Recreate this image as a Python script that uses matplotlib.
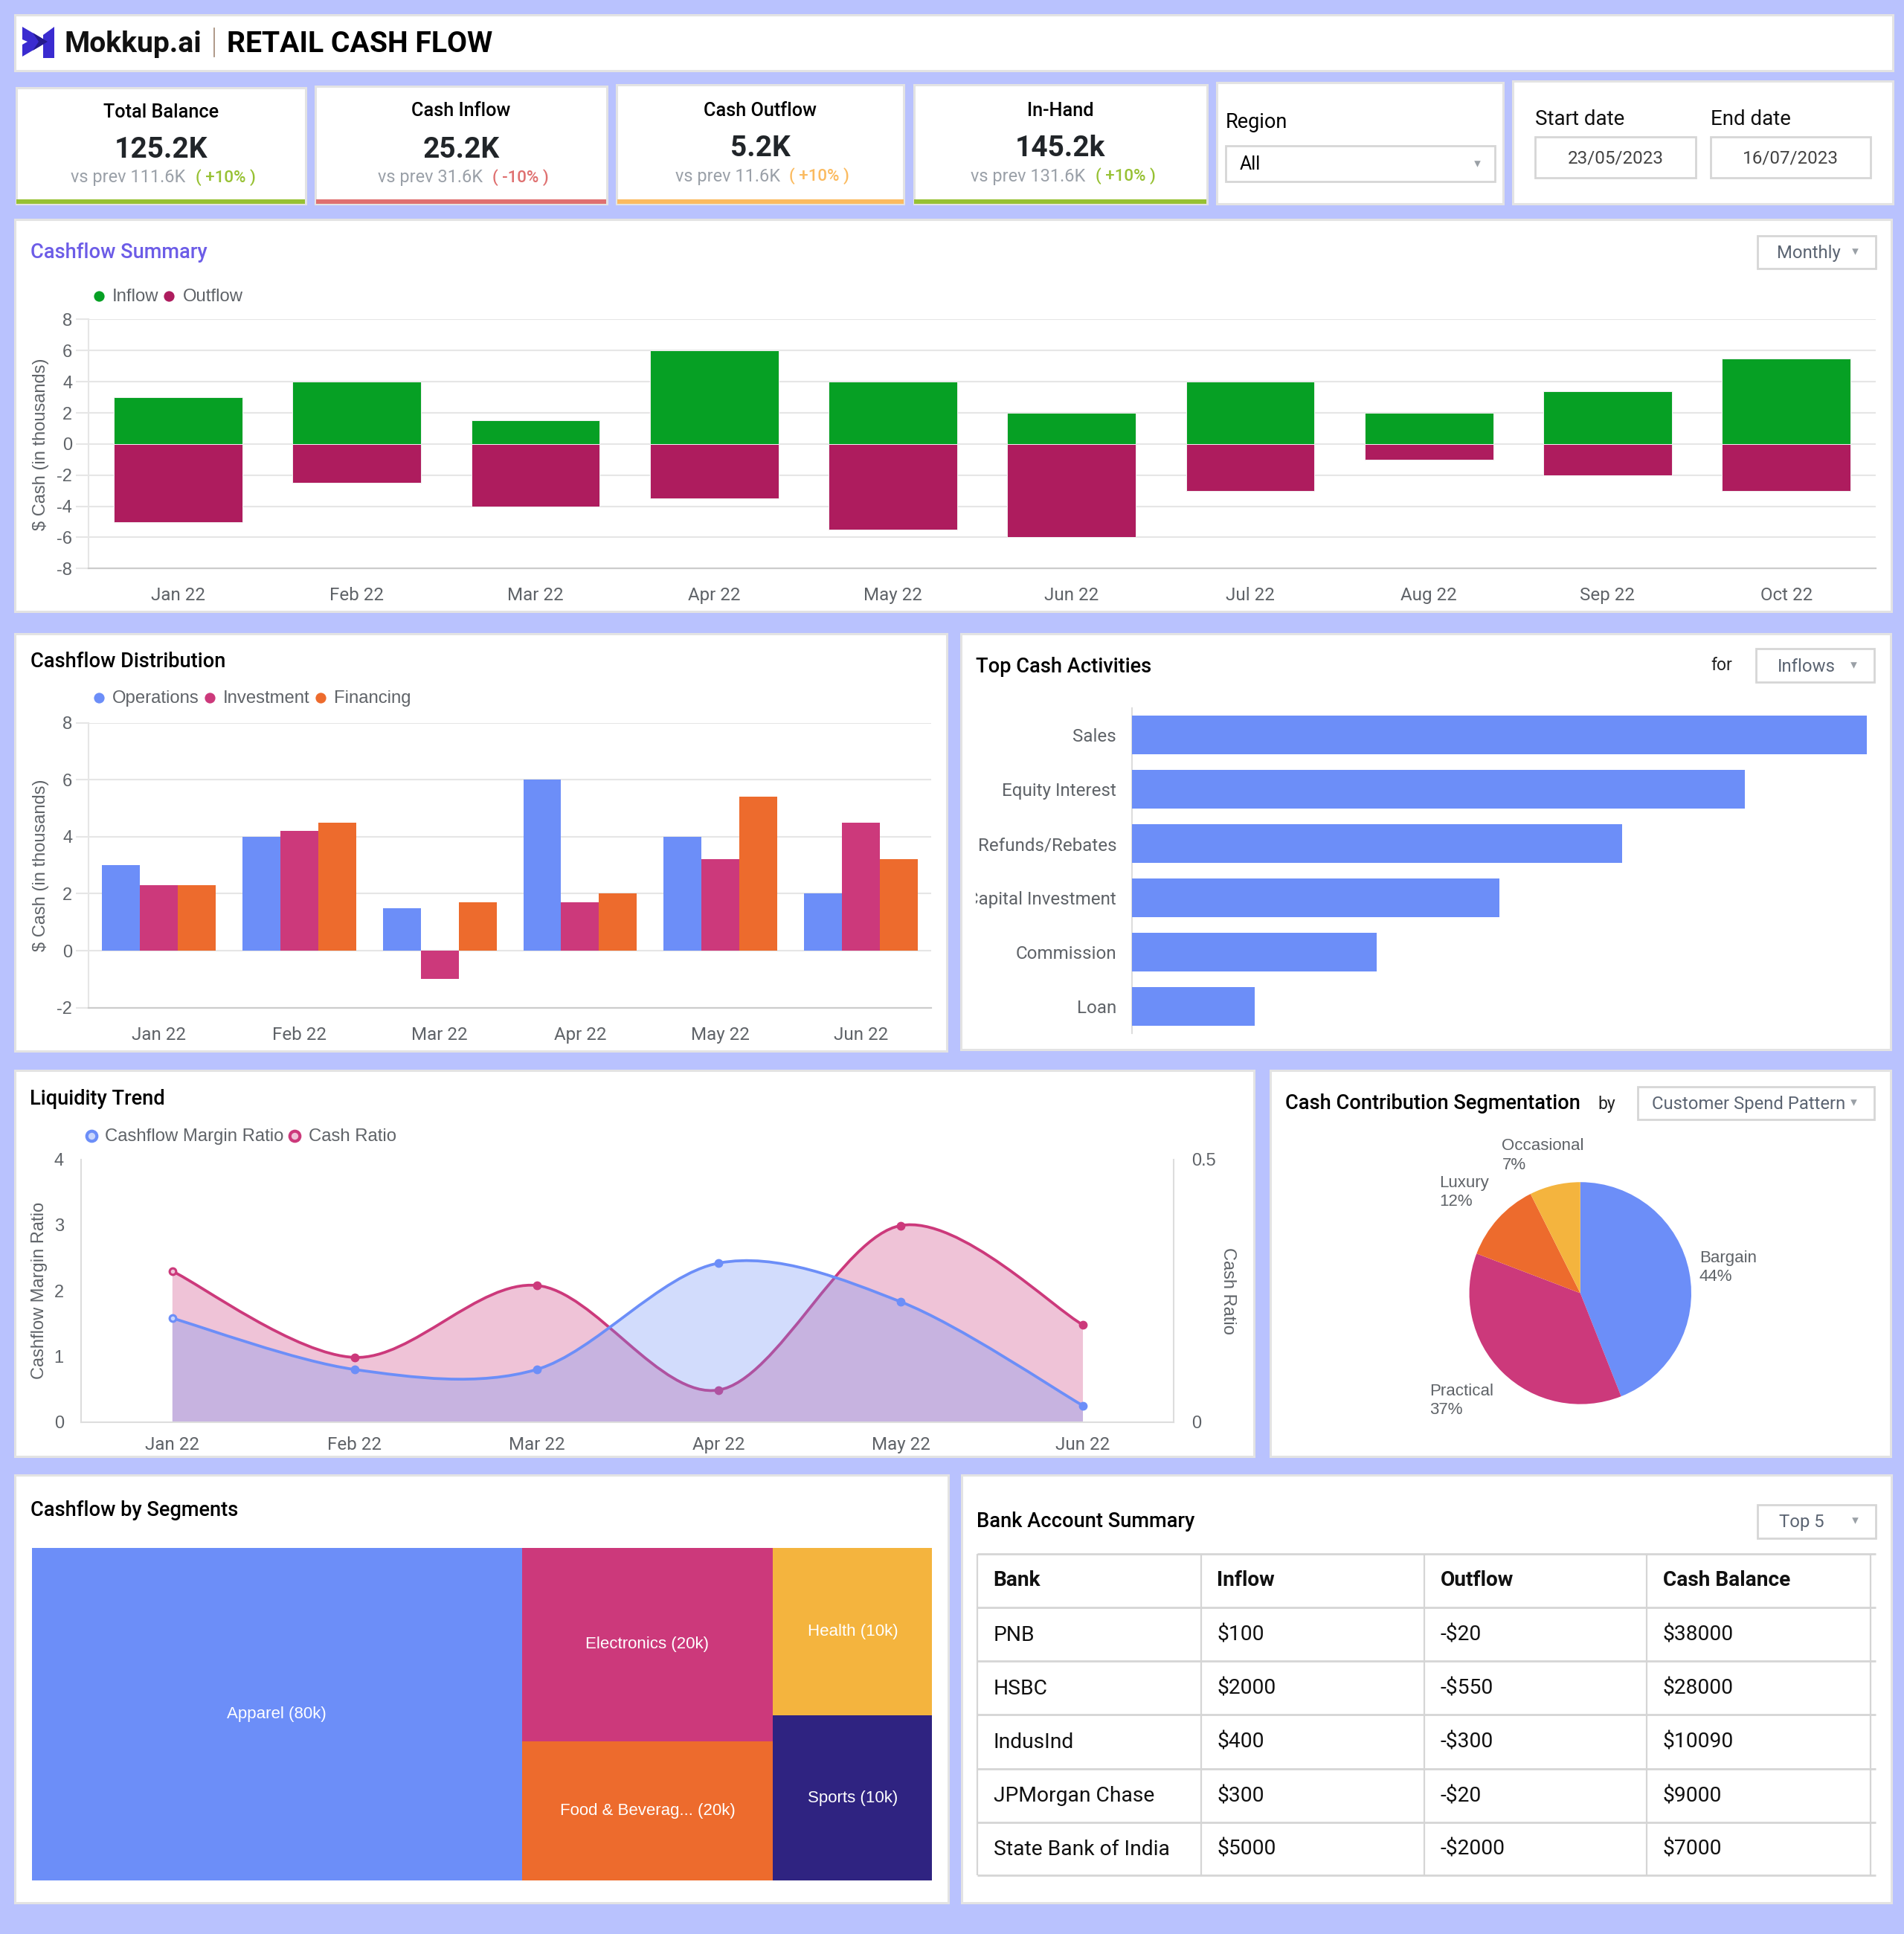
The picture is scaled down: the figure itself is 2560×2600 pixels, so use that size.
#!/usr/bin/env python3
import matplotlib
matplotlib.use('Agg')
import matplotlib.pyplot as plt
from matplotlib.patches import Rectangle, Polygon, PathPatch
from matplotlib.path import Path
from matplotlib.transforms import Bbox

# Data
months = ['Jan 22', 'Feb 22', 'Mar 22', 'Apr 22', 'May 22', 'Jun 22', 'Jul 22', 'Aug 22', 'Sep 22', 'Oct 22']
inflow = [3, 4, 1.5, 6, 4, 2, 4, 2, 3.4, 5.5]
outflow = [-5, -2.5, -4, -3.5, -5.5, -6, -3, -1, -2, -3]

dist_months = months[:6]
operations = [3, 4, 1.5, 6, 4, 2]
investment = [2.3, 4.2, -1, 1.7, 3.2, 4.5]
financing = [2.3, 4.5, 1.7, 2, 5.4, 3.2]

activities = ['Sales', 'Equity Interest', 'Refunds/Rebates', 'Capital Investment', 'Commission', 'Loan']
activity_values = [6, 5, 4, 3, 2, 1]

margin_ratio = [1.58, 0.8, 0.8, 2.42, 1.83, 0.25]
cash_ratio = [0.287, 0.123, 0.26, 0.061, 0.374, 0.185]

pie_labels = ['Bargain', 'Practical', 'Luxury', 'Occasional']
pie_values = [44, 36.8, 11.8, 7.4]

segment_labels = ['Apparel (80k)', 'Electronics (20k)', 'Food & Beverag... (20k)', 'Health (10k)', 'Sports (10k)']
segment_sizes = [54.4, 16.2, 11.7, 8.9, 8.8]

bank_header = ['Bank', 'Inflow', 'Outflow', 'Cash Balance']
banks = ['PNB', 'HSBC', 'IndusInd', 'JPMorgan Chase', 'State Bank of India']
bank_inflow = ['$100', '$2000', '$400', '$300', '$5000']
bank_outflow = ['-$20', '-$550', '-$300', '-$20', '-$2000']
bank_balance = ['$38000', '$28000', '$10090', '$9000', '$7000']

kpi_titles = ['Total Balance', 'Cash Inflow', 'Cash Outflow', 'In-Hand']
kpi_values = ['125.2K', '25.2K', '5.2K', '145.2k']
kpi_prev = ['vs prev 111.6K', 'vs prev 31.6K', 'vs prev 11.6K', 'vs prev 131.6K']
kpi_change = ['( +10% )', '( -10% )', '( +10% )', '( +10% )']

BG = '#B9C2FE'
BLUE = '#6C8EF8'
PINK = '#CC397B'
ORANGE = '#ED6B2D'
YELLOW = '#F4B43E'
NAVY = '#2F2381'
GREEN = '#06A024'
MAROON = '#AE1C5E'
GRID = '#E6E6E6'
GREY_TEXT = '#5F6368'
EDGE = '#E3E3E3'
SANS = 'Liberation Sans'

plt.rcParams['font.family'] = ['Roboto', 'DejaVu Sans']
plt.rcParams['axes.unicode_minus'] = False

W, H = 2560, 2600
S = 2560 / 1544  # layout numbers below are in units of a 1544 wide view

fig = plt.figure(figsize=(W / 100, H / 100), dpi=100, facecolor=BG)
bg = fig.add_axes([0, 0, 1, 1])
bg.set_xlim(0, W / S)
bg.set_ylim(H / S, 0)
bg.axis('off')


def panel(x0, y0, x1, y1):
    bg.add_patch(Rectangle((x0, y0), x1 - x0, y1 - y0, fc='white', ec=EDGE, lw=2.2, zorder=1))


def text(x, y, s, size=17, color='#000000', weight='normal', ha='left', **kw):
    return bg.text(x, y + 1, s, fontsize=size, color=color, fontweight=weight, ha=ha, va='center', zorder=5, **kw)


def dropdown(x0, y0, x1, y1, label, tx, arrow_x, size=17.2):
    bg.add_patch(Rectangle((x0, y0), x1 - x0, y1 - y0, fc='white', ec='#D6D6D6', lw=2, zorder=2))
    text(tx, (y0 + y1) / 2, label, size=size, color='#5B6472', ha='center')
    bg.scatter([arrow_x], [(y0 + y1) / 2 - 0.5], marker='v', s=38, color='#9AA0A6', zorder=5, linewidths=0)


def chart_ax(x0, y0, x1, y1):
    a = fig.add_axes([x0 * S / W, 1 - y1 * S / H, (x1 - x0) * S / W, (y1 - y0) * S / H])
    a.patch.set_alpha(0)
    for sp in a.spines.values():
        sp.set_visible(False)
    a.tick_params(length=0, labelsize=17.4, labelcolor=GREY_TEXT)
    return a


def style_bars_ax(a, x0, x1):
    a.grid(axis='y', color=GRID, lw=1.5, zorder=0)
    a.spines['bottom'].set_visible(True)
    a.spines['bottom'].set_color('#CCCCCC')
    a.spines['bottom'].set_linewidth(1.6)
    a.spines['left'].set_visible(True)
    a.spines['left'].set_color(GRID)
    a.spines['left'].set_linewidth(1.5)
    a.tick_params(axis='y', length=12, width=1.5, color=GRID, pad=4, labelsize=17)
    a.tick_params(axis='x', pad=18)
    for lab in a.get_yticklabels():
        lab.set_family(SANS)
    a.set_ylabel('$ Cash (in thousands)', fontsize=17, color=GREY_TEXT, family=SANS, va='center')
    a.yaxis.set_label_coords((33 - x0) / (x1 - x0), 0.5)


def legend_dot(x, y, color, label, ring=None):
    if ring:
        bg.scatter([x], [y], s=95, facecolor=ring, edgecolor=color, linewidths=3, zorder=5)
    else:
        bg.scatter([x], [y], s=105, color=color, linewidths=0, zorder=5)
    text(x + 11, y - 0.5, label, size=17.2, color=GREY_TEXT, family=SANS)


def smooth(xs, ys, k=0.16):
    # cubic segments through the points, same look as the curved lines in the dashboard
    verts = [(xs[0], ys[0])]
    codes = [Path.MOVETO]
    n = len(xs)
    for i in range(n - 1):
        dx0 = (xs[i + 1] - xs[max(i - 1, 0)]) * k
        dy0 = (ys[i + 1] - ys[max(i - 1, 0)]) * k
        dx1 = (xs[min(i + 2, n - 1)] - xs[i]) * k
        dy1 = (ys[min(i + 2, n - 1)] - ys[i]) * k
        verts += [(xs[i] + dx0, ys[i] + dy0), (xs[i + 1] - dx1, ys[i + 1] - dy1), (xs[i + 1], ys[i + 1])]
        codes += [Path.CURVE4] * 3
    return verts, codes


def area_line(a, xs, ys, color, light):
    verts, codes = smooth(xs, ys)
    fill_verts = verts + [(xs[-1], 0), (xs[0], 0), (xs[0], ys[0])]
    fill_codes = codes + [Path.LINETO, Path.LINETO, Path.CLOSEPOLY]
    a.add_patch(PathPatch(Path(fill_verts, fill_codes), fc=color, ec='none', alpha=0.3))
    a.add_patch(PathPatch(Path(verts, codes), fc='none', ec=color, lw=2.7))
    a.plot(xs, ys, ls='none', marker='o', ms=7.5, color=color)
    a.plot(xs[:1], ys[:1], ls='none', marker='o', ms=3, color=light)


# Panels
panel(12, 12, 1535, 57)
kpi_boxes = [(13, 71, 248, 165), (256, 70, 492, 165), (500, 69, 733, 165), (741, 69, 979, 165)]
for box in kpi_boxes:
    panel(*box)
panel(987, 67, 1219, 165.5)
panel(1227, 66, 1535, 165.5)
panel(12, 178, 1534, 496)
panel(12, 514, 768, 852)
panel(779, 514, 1533, 851)
panel(12, 868, 1017, 1181)
panel(1030, 868, 1533, 1181)
panel(12, 1196, 769, 1543)
panel(780, 1196, 1534, 1543)

# Header
logo_left = [(30, 36), (64, 56), (30, 76), (30, 60), (37, 56), (30, 53)]
logo_right = [(73, 36), (58, 47), (58, 78), (73, 78)]
logo_core = [(44, 44), (64, 56), (44, 68), (52, 56)]
bg.add_patch(Polygon([(x / S, y / S) for x, y in logo_right], fc='#3A2BD0', ec='none', zorder=3))
bg.add_patch(Polygon([(x / S, y / S) for x, y in logo_left], fc='#3A2BD0', ec='none', zorder=3))
bg.add_patch(Polygon([(x / S, y / S) for x, y in logo_core], fc='#241A8C', ec='none', zorder=4))
text(52, 35, 'Mokkup.ai', size=28.2, weight='bold', color='#111111')
bg.plot([173.5, 173.5], [23, 46], color='#A8917F', lw=1.3, zorder=4)
text(184, 35, 'RETAIL CASH FLOW', size=28.2, weight='bold', color='#000000')

# KPI cards
kpi_y = [(90, 120, 143), (89, 120, 143), (89, 119, 142), (89, 119, 142)]
kpi_bars = ['#97C133', '#DF7070', '#FBBB60', '#97C133']
kpi_prev_x = [104, 349, 590, 833.5]
kpi_change_x = [183, 422, 664.5, 913]
for i, box in enumerate(kpi_boxes):
    cx = (box[0] + box[2]) / 2
    text(cx, kpi_y[i][0], kpi_titles[i], size=18.2, weight='medium', ha='center')
    text(cx, kpi_y[i][1] + 0.5, kpi_values[i], size=28, weight='bold', color='#212529', ha='center')
    text(kpi_prev_x[i], kpi_y[i][2], kpi_prev[i], size=16.9, color='#9AA0A8', ha='center')
    text(kpi_change_x[i], kpi_y[i][2], kpi_change[i], size=16, color=kpi_bars[i], weight='medium', ha='center')
    bg.add_patch(Rectangle((box[0] + 0.5, 161.7), box[2] - box[0] - 1, 3.6, fc=kpi_bars[i], ec='none', zorder=3))

# Filters
text(994, 98, 'Region', size=19.5)
bg.add_patch(Rectangle((994, 118), 218, 29, fc='white', ec='#D6D6D6', lw=2, zorder=2))
text(1005, 132, 'All', size=18)
bg.scatter([1198], [132.5], marker='v', s=38, color='#9AA0A6', zorder=5, linewidths=0)
text(1245, 96, 'Start date', size=20, color='#111111')
text(1387, 96, 'End date', size=20, color='#111111')
for x0, s in [(1245, '23/05/2023'), (1387, '16/07/2023')]:
    bg.add_patch(Rectangle((x0, 111), 130, 33, fc='white', ec='#D6D6D6', lw=2, zorder=2))
    text(x0 + 65, 127.5, s, size=17.5, color='#444444', ha='center')

# Cashflow Summary
text(25, 204, 'Cashflow Summary', size=19.6, weight='medium', color='#6C5CE7')
dropdown(1425, 191, 1521, 218, 'Monthly', 1467, 1504)
legend_dot(80, 240, GREEN, 'Inflow')
legend_dot(137, 240, MAROON, 'Outflow')
ax = chart_ax(72, 259, 1521, 461)
xs = range(len(months))
ax.bar(xs, inflow, width=0.72, color=GREEN, ec='#F2F2F2', lw=0.7, zorder=3)
ax.bar(xs, outflow, width=0.72, color=MAROON, ec='#F2F2F2', lw=0.7, zorder=3)
ax.set_xlim(-0.5, 9.5)
ax.set_ylim(-8, 8)
ax.set_yticks(range(-8, 9, 2))
ax.set_xticks(list(xs), months)
style_bars_ax(ax, 72, 1521)

# Cashflow Distribution
text(25, 535.5, 'Cashflow Distribution', size=19.6, weight='medium')
legend_dot(80, 566, BLUE, 'Operations')
legend_dot(170, 566, PINK, 'Investment')
legend_dot(260, 566, ORANGE, 'Financing')
ax = chart_ax(72, 586, 755, 817)
xs = list(range(len(dist_months)))
bw = 0.27
ax.bar([x - bw for x in xs], operations, width=bw, color=BLUE, zorder=3)
ax.bar(xs, investment, width=bw, color=PINK, zorder=3)
ax.bar([x + bw for x in xs], financing, width=bw, color=ORANGE, zorder=3)
ax.set_xlim(-0.5, 5.5)
ax.set_ylim(-2, 8)
ax.set_yticks(range(-2, 9, 2))
ax.set_xticks(xs, dist_months)
style_bars_ax(ax, 72, 755)

# Top Cash Activities
text(791, 539.5, 'Top Cash Activities', size=19.6, weight='medium')
text(1396, 538.5, 'for', size=16.5, ha='center', color='#222222')
dropdown(1424, 526, 1520, 553, 'Inflows', 1465, 1503)
ax = chart_ax(918, 574, 1514, 838)
ys = list(range(len(activities)))
ax.barh(ys, activity_values, height=0.72, color=BLUE, zorder=3)
ax.set_xlim(0, 6)
ax.set_ylim(5.5, -0.5)
ax.set_xticks([])
ax.set_yticks(ys, activities)
ax.spines['left'].set_visible(True)
ax.spines['left'].set_color('#DDDDDD')
ax.spines['left'].set_linewidth(1.5)
ax.tick_params(axis='y', pad=15)
for lab in ax.get_yticklabels():
    # long label gets cut at the panel padding like in the dashboard
    lab.set_clip_on(True)
    lab.set_clip_box(Bbox([[791 * S, 0], [918 * S, H]]))

# Liquidity Trend
text(24, 890, 'Liquidity Trend', size=19.6, weight='medium')
legend_dot(74, 921, BLUE, 'Cashflow Margin Ratio', ring='#C9D6FC')
legend_dot(239, 921, PINK, 'Cash Ratio', ring='#EFC3D8')
ax = chart_ax(66, 940, 952, 1153)
xs = list(range(len(dist_months)))
area_line(ax, xs, margin_ratio, BLUE, '#C9D6FC')
ax.set_xlim(-0.5, 5.5)
ax.set_ylim(0, 4)
ax.set_yticks(range(0, 5))
ax.set_xticks(xs, dist_months)
ax.spines['bottom'].set_visible(True)
ax.spines['bottom'].set_color('#DDDDDD')
ax.spines['bottom'].set_linewidth(1.5)
ax.spines['left'].set_visible(True)
ax.spines['left'].set_color('#DDDDDD')
ax.spines['left'].set_linewidth(1.5)
ax.tick_params(axis='y', pad=17, labelsize=17)
ax.tick_params(axis='x', pad=14)
for lab in ax.get_yticklabels():
    lab.set_family(SANS)
ax.set_ylabel('Cashflow Margin Ratio', fontsize=17, color=GREY_TEXT, family=SANS, va='center')
ax.yaxis.set_label_coords((32 - 66) / (952 - 66), 0.5)
ax2 = ax.twinx()
ax2.patch.set_alpha(0)
for sp in ax2.spines.values():
    sp.set_visible(False)
area_line(ax2, xs, cash_ratio, PINK, '#EFC3D8')
ax2.set_ylim(0, 0.5)
ax2.set_yticks([0, 0.5], ['0', '0.5'])
ax2.tick_params(length=0, labelsize=17, labelcolor=GREY_TEXT, pad=17)
for lab in ax2.get_yticklabels():
    lab.set_family(SANS)
ax2.spines['right'].set_visible(True)
ax2.spines['right'].set_color('#DDDDDD')
ax2.spines['right'].set_linewidth(1.5)
ax2.set_ylabel('Cash Ratio', fontsize=17, color=GREY_TEXT, rotation=270, family=SANS, va='center')
ax2.yaxis.set_label_coords((996 - 66) / (952 - 66), 0.5)
ax.set_zorder(ax2.get_zorder() + 1)  # blue series sits on top of the pink one

# Cash Contribution Segmentation
text(1042, 893.5, 'Cash Contribution Segmentation', size=19.6, weight='medium')
text(1303, 894.5, 'by', size=16.5, ha='center', color='#222222')
dropdown(1328, 881, 1520, 908, 'Customer Spend Pattern', 1418, 1503)
R = 90
ax = chart_ax(1281.5 - R, 1048.5 - R, 1281.5 + R, 1048.5 + R)
ax.pie(pie_values, colors=[BLUE, PINK, ORANGE, YELLOW], startangle=90, counterclock=False, radius=1,
       wedgeprops={'linewidth': 0})
ax.set_xlim(-1, 1)
ax.set_ylim(-1, 1)
pie_label_pos = [(1378, 1027), (1159, 1135), (1167, 966), (1218, 936)]
for (px, py), lab, v in zip(pie_label_pos, pie_labels, pie_values):
    text(px, py - 8, lab, size=16, color=GREY_TEXT, family=SANS)
    text(px, py + 7.5, f'{v:.0f}%', size=16, color=GREY_TEXT, family=SANS)

# Cashflow by Segments
text(25, 1223.5, 'Cashflow by Segments', size=19.6, weight='medium')
ax = chart_ax(26, 1255, 756, 1525)
ax.set_xticks([])
ax.set_yticks([])
total = sum(segment_sizes)
c1 = segment_sizes[0] / total
c2 = (segment_sizes[1] + segment_sizes[2]) / total
c3 = (segment_sizes[3] + segment_sizes[4]) / total
split2 = segment_sizes[1] / (segment_sizes[1] + segment_sizes[2])
split3 = segment_sizes[3] / (segment_sizes[3] + segment_sizes[4])
rects = [
    (0, 0, c1, 1, BLUE),
    (c1, 1 - split2, c2, split2, PINK),
    (c1, 0, c2, 1 - split2, ORANGE),
    (c1 + c2, 1 - split3, c3, split3, YELLOW),
    (c1 + c2, 0, c3, 1 - split3, NAVY),
]
for (x, y, w, h, col), lab in zip(rects, segment_labels):
    ax.bar(x, h, width=w, bottom=y, align='edge', color=col, linewidth=0)
    ax.text(x + w / 2, y + h / 2, lab, color='white', fontsize=16, ha='center', va='center', family=SANS)
ax.set_xlim(0, 1)
ax.set_ylim(0, 1)

# Bank Account Summary
text(792, 1232.5, 'Bank Account Summary', size=19.6, weight='medium')
dropdown(1425, 1220, 1521, 1247, 'Top 5', 1461, 1504)
col_x = [792.5, 974, 1155, 1335.5, 1517]
row_y = [1260, 1303.5, 1347, 1390.5, 1434, 1477.5, 1520.5]
for y in row_y:
    bg.plot([col_x[0], 1521], [y, y], color='#D5D5D5', lw=2, zorder=3, solid_capstyle='butt')
for x in col_x:
    bg.plot([x, x], [row_y[0], row_y[-1]], color='#D5D5D5', lw=1.6, zorder=3, solid_capstyle='butt')
for j, h in enumerate(bank_header):
    text(col_x[j] + 13, 1280.5, h, size=20.2, weight='bold', color='#111111')
columns = [banks, bank_inflow, bank_outflow, bank_balance]
for j, col in enumerate(columns):
    for i, v in enumerate(col):
        text(col_x[j] + 13, (row_y[i + 1] + row_y[i + 2]) / 2 - 0.5, v, size=20.3, color='#111111')

fig.savefig('out.png', dpi=100, facecolor=BG)
